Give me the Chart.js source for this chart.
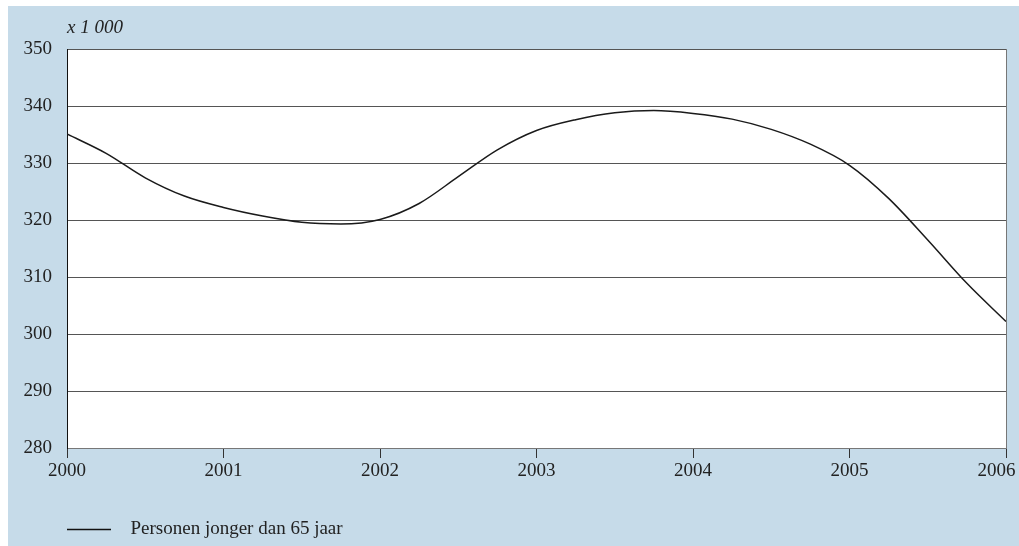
<!DOCTYPE html>
<html><head><meta charset="utf-8">
<script src="https://cdn.jsdelivr.net/npm/chart.js@4.4.0/dist/chart.umd.min.js"></script>
<style>
html,body{margin:0;padding:0;background:#fff;overflow:hidden;width:1019px;height:546px}
#wrap{position:absolute;left:8px;top:6px;width:1011px;height:540px;overflow:hidden;background:#c6dbe9}
#wrap canvas{position:absolute;left:0;top:0}
</style></head><body>
<div id="wrap"><canvas id="c" width="1011" height="543" style="width:1011px;height:543px"></canvas></div>
<script>
const years = [2000, 2000.25, 2000.5, 2000.75, 2001, 2001.25, 2001.5, 2001.75, 2002, 2002.25, 2002.5, 2002.75, 2003, 2003.25, 2003.5, 2003.75, 2004, 2004.25, 2004.5, 2004.75, 2005, 2005.25, 2005.5, 2005.75, 2006];
const values = [335.1, 331.7, 327.4, 324.2, 322.2, 320.7, 319.6, 319.3, 320.1, 322.9, 327.6, 332.3, 335.7, 337.6, 338.8, 339.2, 338.7, 337.7, 335.9, 333.3, 329.6, 323.8, 316.5, 308.9, 302.2];
const seriesLabel = 'Personen jonger dan 65 jaar';
const unitLabel = 'x 1 000';
const yMin = 280, yMax = 350, yStep = 10;
const xMin = 2000, xMax = 2006;

Chart.defaults.font.family = '"Liberation Serif", "Times New Roman", serif';
Chart.defaults.font.size = 19;
Chart.defaults.color = '#222';

const legendImg = document.createElement('canvas');
legendImg.width = 103; legendImg.height = 3;
(function(){const g = legendImg.getContext('2d'); g.strokeStyle = '#111'; g.lineWidth = 1.5; g.beginPath(); g.moveTo(49, 1.5); g.lineTo(93, 1.5); g.stroke();})();

const decor = {
  id: 'decor',
  beforeDraw(chart) {
    const {ctx, chartArea: a} = chart;
    ctx.save();
    ctx.fillStyle = '#fff';
    ctx.fillRect(a.left, a.top, a.right - a.left, a.bottom - a.top);
    ctx.fillStyle = '#222';
    ctx.font = 'italic 19px "Liberation Serif", serif';
    ctx.textBaseline = 'alphabetic';
    ctx.textAlign = 'left';
    ctx.fillText(unitLabel, a.left, a.top - 16);
    ctx.restore();
  }
};

new Chart(document.getElementById('c'), {
  type: 'line',
  data: {
    datasets: [{
      label: seriesLabel,
      data: years.map((x, i) => ({x, y: values[i]})),
      borderColor: '#1a1a1a',
      borderWidth: 1.5,
      pointRadius: 0,
      fill: false,
      cubicInterpolationMode: 'monotone'
    }]
  },
  options: {
    responsive: false,
    animation: false,
    layout: {padding: {left: 0, right: 13, top: 43, bottom: 0}},
    plugins: {
      legend: {
        position: 'bottom',
        align: 'start',
        labels: {usePointStyle: true, pointStyle: legendImg, pointStyleWidth: 103, padding: 10, color: '#222', font: {size: 19}}
      },
      tooltip: {enabled: false}
    },
    scales: {
      x: {
        type: 'linear', min: xMin, max: xMax,
        afterFit: s => { s.height = 62; s.paddingLeft = 0; s.paddingRight = 0; },
        ticks: {stepSize: 1, padding: 2, maxRotation: 0, color: '#222',
          callback: v => v === xMax ? String(v) + '\u2007\u2007' : String(v)},
        grid: {
          drawOnChartArea: true, drawTicks: true, tickLength: 10, tickColor: '#333',
          color: c => (c.tick && c.tick.value === xMax) ? '#777' : 'rgba(0,0,0,0)', lineWidth: 1
        },
        border: {display: true, color: '#777', width: 1}
      },
      y: {
        min: yMin, max: yMax,
        afterFit: s => { s.width = 59; s.paddingTop = 0; s.paddingBottom = 0; },
        ticks: {stepSize: yStep, padding: 15, color: '#222'},
        grid: {color: '#555', lineWidth: 1, drawTicks: false},
        border: {display: true, color: '#111', width: 1}
      }
    }
  },
  plugins: [decor]
});
</script>
</body></html>
